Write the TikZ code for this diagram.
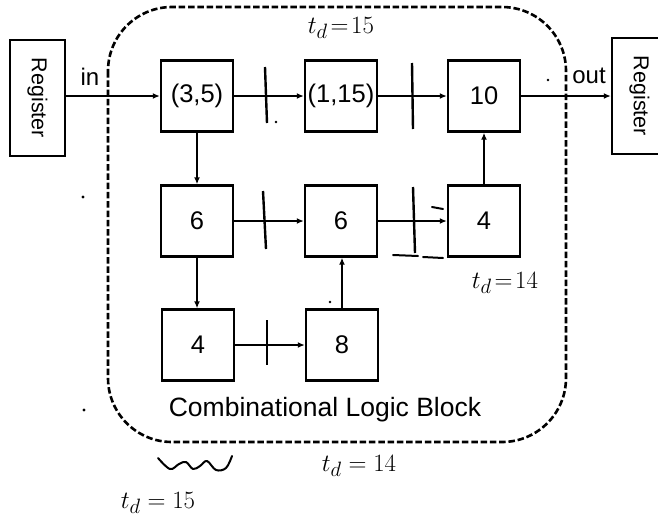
\documentclass[tikz,border=0pt]{standalone}
\usepackage{fontspec}
\setmainfont{Liberation Sans}
\usetikzlibrary{arrows.meta}
\begin{document}
\begin{tikzpicture}[x=1pt,y=-1pt,
  blk/.style={draw, line width=2.4pt, minimum width=72pt, minimum height=71pt, inner sep=0pt, font=\fontsize{25.5}{27}\selectfont},
  regbox/.style={draw, line width=2.4pt, minimum width=55pt, minimum height=116pt, inner sep=0pt},
  conn/.style={line width=2.1pt, -{Latex[length=7pt,width=6pt]}},
  tick/.style={line width=2.4pt},
  hand/.style={font=\fontsize{29}{31}\selectfont},
  ink/.style={line width=2pt, line cap=round, line join=round}]
\useasboundingbox (0,0) rectangle (658,525);
% container
\draw[line width=2.6pt, dash pattern=on 6.5pt off 2.8pt, rounded corners=64pt] (108,7) rectangle (566,442);
\node[font=\fontsize{26.5}{28}\selectfont] (lbl) at (325,410) {Combinational Logic Block};
% registers
\node[regbox] (r1) at (37.5,98) {};
\node[rotate=-90, font=\fontsize{21.5}{23}\selectfont] (r1t) at (r1) {Register};
\node[regbox] (r2) at (639.5,96) {};
\node[rotate=-90, font=\fontsize{21.5}{23}\selectfont] (r2t) at (r2) {Register};
% blocks
\node[blk] (a) at (197,96) {(3,5)};
\node[blk] (b) at (341,96) {(1,15)};
\node[blk] (c) at (484,96) {10};
\node[blk] (d) at (197,221) {6};
\node[blk] (e) at (341,221) {6};
\node[blk] (f) at (484,221) {4};
\node[blk] (g) at (198,345) {4};
\node[blk] (h) at (342,345) {8};
% connectors
\draw[conn] (r1.east |- a.west) -- (a.west);
\draw[conn] (a) -- (b);
\draw[conn] (b) -- (c);
\draw[conn] (c.east) -- (r2.west |- c.east);
\draw[conn] (a.south) -- (d.north);
\draw[conn] (d.south) -- (g.north -| d.south);
\draw[conn] (d) -- (e);
\draw[conn] (e) -- (f);
\draw[conn] (g) -- (h);
\draw[conn] (h.north) -- (e.south -| h.north);
\draw[conn] (f.north) -- (c.south);
\node[font=\fontsize{24}{26}\selectfont] (in) at (90,77) {in};
\node[font=\fontsize{24}{26}\selectfont] (out) at (589,76) {out};
% register ticks
\draw[tick] (265,67) -- (267,123);
\draw[tick] (412,63) -- (413,129);
\draw[tick] (263,191) -- (266,249);
\draw[tick] (413,187) -- (415,253);
\draw[tick] (267,320) -- (267,365);
% handwriting
\node[hand] (h1) at (341,28) {$t_d\!=\!15$};
\node[hand] (h2) at (505,283) {$t_d\!=\!14$};
\node[hand] (h3) at (359,466) {$t_d = 14$};
\node[hand] (h4) at (158,503) {$t_d = 15$};
\draw[ink] plot[smooth, tension=0.6] coordinates {(158,458) (170,469) (179,464) (186,462) (193,469) (200,466) (207,461) (216,470) (226,468) (232,456)};
\draw[ink] (432,207) -- (443,209);
\draw[ink] (393,255) -- (418,256) (423,257) -- (443,258);
\fill (83,197) circle (1.6pt);
\fill (84,410) circle (1.6pt);
\fill (548,80) circle (1.4pt);
\fill (330,302) circle (1.3pt);
\fill (276,122) circle (1.3pt);
\end{tikzpicture}
\end{document}
